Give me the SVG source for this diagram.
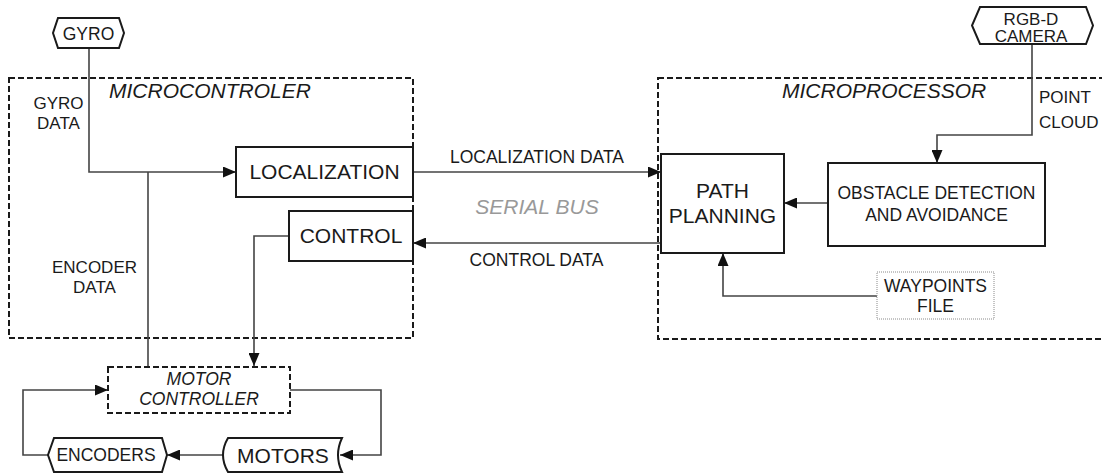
<svg xmlns="http://www.w3.org/2000/svg" width="1102" height="473" viewBox="0 0 1102 473">
  <defs>
    <marker id="arrow" markerUnits="userSpaceOnUse" markerWidth="13" markerHeight="11" refX="13" refY="5.5" orient="auto">
      <path d="M0,0 L13,5.5 L0,11 z" fill="#111"/>
    </marker>
    <style>
      text { font-family: "Liberation Sans", Arial, sans-serif; fill: #1a1a1a; }
      .big { font-size: 21px; }
      .mid { font-size: 17.5px; }
      .sm { font-size: 17px; }
      .it { font-style: italic; }
      .c { text-anchor: middle; }
      .box { fill: #fff; stroke: #1a1a1a; stroke-width: 2; }
      .dash { fill: none; stroke: #1a1a1a; stroke-width: 2; stroke-dasharray: 6 3; }
      .dot { fill: #fff; stroke: #8a8a8a; stroke-width: 1; stroke-dasharray: 1 1; }
      .wire { fill: none; stroke: #444; stroke-width: 1.6; }
      .bus { fill: #999; }
    </style>
  </defs>
  <rect width="1102" height="473" fill="#fff"/>

  <!-- container regions -->
  <g id="microcontroler">
    <rect class="dash" x="9" y="78" width="404" height="260"/>
    <text class="big it" x="109" y="98">MICROCONTROLER</text>
  </g>
  <g id="microprocessor">
    <rect class="dash" x="658" y="78" width="460" height="261"/>
    <text class="big it" x="782" y="98">MICROPROCESSOR</text>
  </g>

  <!-- connectors -->
  <g id="connectors">
    <polyline class="wire" points="89,48 89,172 236,172" marker-end="url(#arrow)"/>
    <line class="wire" x1="148" y1="172" x2="148" y2="367"/>
    <polyline class="wire" points="289,236 254,236 254,366" marker-end="url(#arrow)"/>
    <line class="wire" x1="413" y1="172" x2="661" y2="172" marker-end="url(#arrow)"/>
    <line class="wire" x1="661" y1="243" x2="413" y2="243" marker-end="url(#arrow)"/>
    <line class="wire" x1="828" y1="203" x2="784" y2="203" marker-end="url(#arrow)"/>
    <polyline class="wire" points="1032,44 1032,135 937,135 937,163" marker-end="url(#arrow)"/>
    <polyline class="wire" points="877,296 723,296 723,253" marker-end="url(#arrow)"/>
    <polyline class="wire" points="48,455 23,455 23,390 108,390" marker-end="url(#arrow)"/>
    <polyline class="wire" points="290,390 381,390 381,455 340,455" marker-end="url(#arrow)"/>
    <line class="wire" x1="224" y1="455" x2="167" y2="455" marker-end="url(#arrow)"/>
  </g>

  <!-- connector labels -->
  <g id="labels">
    <text class="sm c" x="58.5" y="109">GYRO</text>
    <text class="sm c" x="58.5" y="129">DATA</text>
    <text class="sm c" x="94.5" y="273">ENCODER</text>
    <text class="sm c" x="94.5" y="293">DATA</text>
    <text class="mid c" x="537" y="163">LOCALIZATION DATA</text>
    <text class="mid c" x="536.5" y="266">CONTROL DATA</text>
    <text class="big it c bus" x="537" y="214">SERIAL BUS</text>
    <text class="sm" x="1039" y="103">POINT</text>
    <text class="sm" x="1039" y="128">CLOUD</text>
  </g>

  <!-- nodes -->
  <g id="gyro">
    <polygon class="box" points="58,18 119,18 124,33 119,48 58,48 53,33"/>
    <text class="mid c" x="88.5" y="39.5">GYRO</text>
  </g>
  <g id="camera">
    <polygon class="box" points="980,7 1086,7 1093,25.5 1086,44 980,44 972,25.5"/>
    <text class="sm c" x="1031" y="25">RGB-D</text>
    <text class="sm c" x="1031" y="42">CAMERA</text>
  </g>
  <g id="localization">
    <rect class="box" x="236" y="147" width="177" height="50"/>
    <text class="big c" x="324.5" y="179">LOCALIZATION</text>
  </g>
  <g id="control">
    <rect class="box" x="289" y="211" width="124" height="50"/>
    <text class="big c" x="351" y="243">CONTROL</text>
  </g>
  <g id="path-planning">
    <rect class="box" x="661" y="154" width="123" height="99"/>
    <text class="big c" x="722.5" y="198">PATH</text>
    <text class="big c" x="722.5" y="223">PLANNING</text>
  </g>
  <g id="obstacle">
    <rect class="box" x="828" y="163" width="217" height="83"/>
    <text class="mid c" x="936.5" y="199">OBSTACLE DETECTION</text>
    <text class="mid c" x="936.5" y="221">AND AVOIDANCE</text>
  </g>
  <g id="waypoints">
    <rect class="dot" x="877" y="272" width="117" height="47"/>
    <text class="mid c" x="935.5" y="292">WAYPOINTS</text>
    <text class="mid c" x="935.5" y="312">FILE</text>
  </g>
  <g id="motor-controller">
    <rect class="dash" x="108" y="367" width="182" height="46" fill="#fff"/>
    <text class="mid it c" x="199" y="385">MOTOR</text>
    <text class="mid it c" x="199" y="405">CONTROLLER</text>
  </g>
  <g id="encoders">
    <polygon class="box" points="54,438 162,438 167,455 162,472 54,472 48,455"/>
    <text class="mid c" x="106" y="461">ENCODERS</text>
  </g>
  <g id="motors">
    <path class="box" d="M228,438 L342,438 Q334,455 342,472 L228,472 Q218,455 228,438 z"/>
    <text class="big c" x="283" y="463">MOTORS</text>
  </g>
</svg>
